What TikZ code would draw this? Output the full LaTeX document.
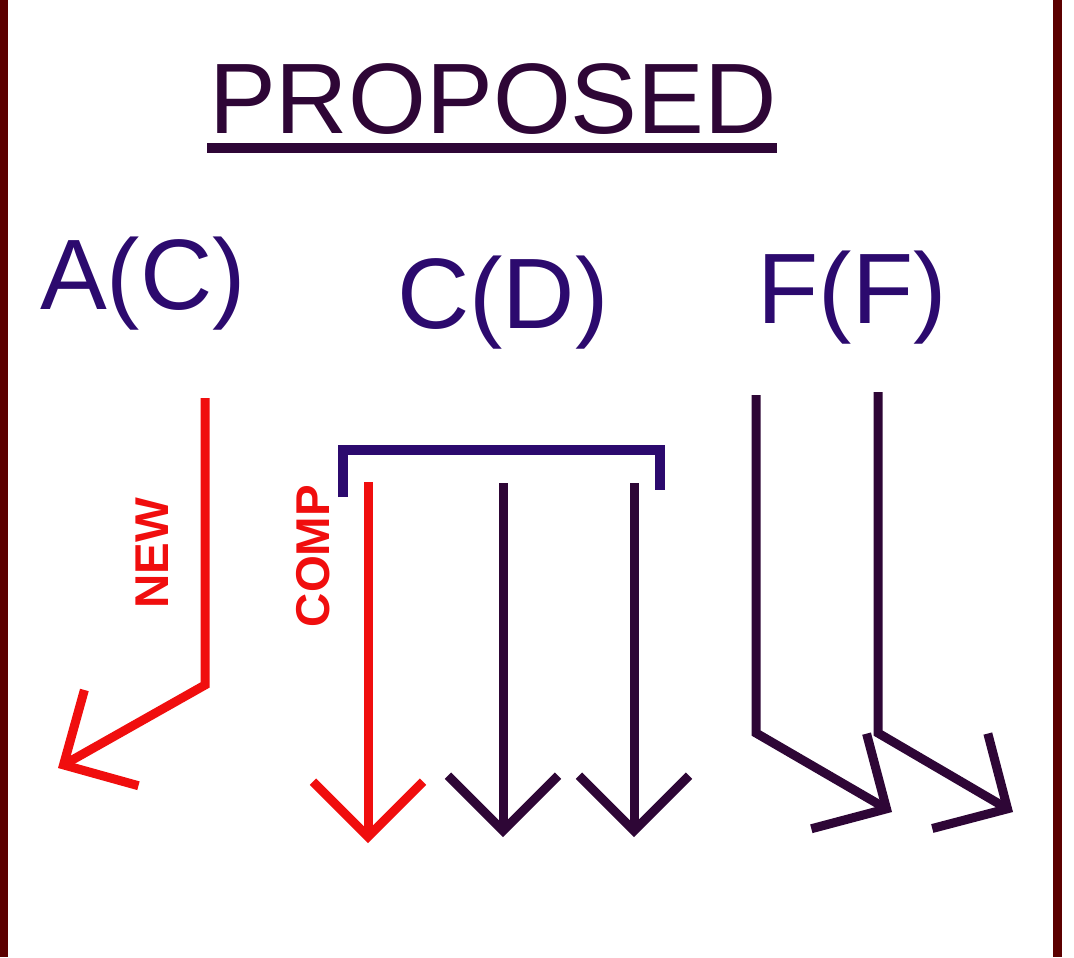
\documentclass[tikz,border=0pt]{standalone}
\usepackage{fontspec}
\setmainfont{Liberation Sans}
\usetikzlibrary{arrows.meta,positioning}
\definecolor{maroonline}{RGB}{92,0,0}
\definecolor{plumdark}{RGB}{46,6,54}
\definecolor{indigotext}{RGB}{44,10,110}
\definecolor{redline}{RGB}{240,14,14}
\tikzstyle{letters}=[inner sep=0pt,anchor=base,text=indigotext,font=\fontsize{57}{60}\selectfont]
\tikzstyle{sidetag}=[inner sep=0pt,rotate=90,text=redline,font=\bfseries\fontsize{27}{30}\selectfont]
\tikzstyle{flow}=[line width=0.18cm,-{Straight Barb[length=1.1cm,width=2.2cm]}]

\begin{document}
\begin{tikzpicture}[x=0.02cm,y=-0.02cm]
  \useasboundingbox (0,0) rectangle (1074,957);
  \fill[maroonline] (0,0) rectangle (8,957);
  \fill[maroonline] (1053,0) rectangle (1062,957);

  \node[letters,text=plumdark] (title) at (493,133) {PROPOSED};
  \node[letters] (ac) at (143,309) {A(C)};
  \node[letters] (cd) at (503,328) {C(D)};
  \node[letters] (ff) at (852,323) {F(F)};
  \node[sidetag] (new)  at (152,553) {NEW};
  \node[sidetag] (comp) at (313,556) {COMP};

  \coordinate (ul1) at (207,148);
  \coordinate (ul2) at (777,148);
  \coordinate (a1) at (205,398);
  \coordinate (a2) at (205,685);
  \coordinate (a3) at (58,768);
  \coordinate (b1) at (343,497);
  \coordinate (b2) at (343,450);
  \coordinate (b3) at (660,450);
  \coordinate (b4) at (660,490);
  \coordinate (c1) at (368,482);
  \coordinate (c2) at (368,843);
  \coordinate (d1) at (503,483);
  \coordinate (d2) at (503,837);
  \coordinate (e1) at (634,483);
  \coordinate (e2) at (634,837);
  \coordinate (f1) at (756,395);
  \coordinate (f2) at (756,733);
  \coordinate (f3) at (892,812);
  \coordinate (g1) at (878,392);
  \coordinate (g2) at (878,733);
  \coordinate (g3) at (1013,812);

  \draw[plumdark,line width=0.19cm] (ul1) -- (ul2);
  \draw[indigotext,line width=0.2cm] (b1) -- (b2) -- (b3) -- (b4);

  \draw[flow,redline] (a1) -- (a2) -- (a3);
  \draw[flow,redline] (c1) -- (c2);
  \foreach \from/\to in {d1/d2,e1/e2}
      \draw[flow,plumdark] (\from) -- (\to);
  \draw[flow,plumdark] (f1) -- (f2) -- (f3);
  \draw[flow,plumdark] (g1) -- (g2) -- (g3);
\end{tikzpicture}
\end{document}
